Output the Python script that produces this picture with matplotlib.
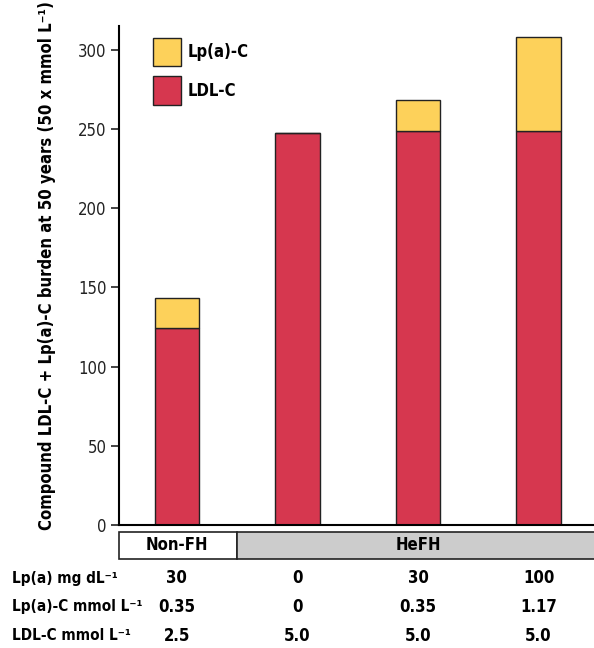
import matplotlib.pyplot as plt
import matplotlib.transforms as mtransforms
from matplotlib.patches import Rectangle, Patch

plt.rcParams['font.family'] = ['DejaVu Sans']
plt.rcParams['font.stretch'] = 'condensed'

# data
groups = ['Non-FH', 'HeFH']
ldl_c = [124.5, 247.5, 249, 249]
lpa_c = [18.5, 0, 19, 59]
row_labels = ['Lp(a) mg dL⁻¹', 'Lp(a)-C mmol L⁻¹', 'LDL-C mmol L⁻¹']
row_values = [['30', '0', '30', '100'],
              ['0.35', '0', '0.35', '1.17'],
              ['2.5', '5.0', '5.0', '5.0']]

RED = '#D6374F'
YELLOW = '#FDD15A'
EDGE = '#222222'

W, H = 594, 648
fig = plt.figure(figsize=(W / 100, H / 100), dpi=100)
ax_left, ax_right, ax_top, ax_bottom = 119, 600, 26, 525
ax = fig.add_axes([ax_left / W, 1 - ax_bottom / H,
                   (ax_right - ax_left) / W, (ax_bottom - ax_top) / H])
h_ax = ax_bottom - ax_top
w_ax = ax_right - ax_left


def ay(py):
    return (ax_bottom - py) / h_ax


x = list(range(len(ldl_c)))
ax.bar(x, ldl_c, width=0.37, color=RED, edgecolor=EDGE, linewidth=1, zorder=2)
ax.bar(x, lpa_c, width=0.37, bottom=ldl_c, color=YELLOW, edgecolor=EDGE,
       linewidth=1, zorder=2)

ax.set_xlim(-0.48, 3.51)
ax.set_ylim(0, 315)
ax.set_yticks([0, 50, 100, 150, 200, 250, 300])
ax.tick_params(axis='y', length=6, width=1.2, labelsize=12, colors='#222222',
               pad=3)
ax.set_xticks([])
for s in ['top', 'right']:
    ax.spines[s].set_visible(False)
ax.spines['left'].set_linewidth(1.5)
ax.spines['bottom'].set_linewidth(1.5)

ax.set_ylabel('Compound LDL-C + Lp(a)-C burden at 50 years (50 x mmol L⁻¹)',
              fontsize=12, fontweight='bold')
ax.yaxis.set_label_coords((56 - ax_left) / w_ax, ay(266))

handles = [Patch(facecolor=YELLOW, edgecolor=EDGE, label='Lp(a)-C'),
           Patch(facecolor=RED, edgecolor=EDGE, label='LDL-C')]
ax.legend(handles=handles, loc='upper left', bbox_to_anchor=(0.04, 1.006),
          frameon=False, handlelength=1.65, handleheight=2.25,
          handletextpad=0.4, labelspacing=0.6,
          prop={'weight': 'bold', 'size': 12, 'stretch': 'condensed'})

# group boxes under the axis
trans = mtransforms.blended_transform_factory(ax.transData, ax.transAxes)

box_top, box_bot = ay(532), ay(559)
ax.add_patch(Rectangle((-0.48, box_bot), 0.98, box_top - box_bot,
                       transform=trans, facecolor='white', edgecolor=EDGE,
                       linewidth=1.2, clip_on=False))
ax.add_patch(Rectangle((0.5, box_bot), 3.2, box_top - box_bot,
                       transform=trans, facecolor='#CCCCCC', edgecolor=EDGE,
                       linewidth=1.2, clip_on=False))
ax.text(0.0, (box_top + box_bot) / 2, groups[0], transform=trans,
        ha='center', va='center', fontsize=12, fontweight='bold')
ax.text(2.0, (box_top + box_bot) / 2, groups[1], transform=trans,
        ha='center', va='center', fontsize=12, fontweight='bold')

# table rows
row_y = [578, 607, 636]
for label, vals, py in zip(row_labels, row_values, row_y):
    fig.text(12 / W, 1 - py / H, label, ha='left', va='center',
             fontsize=11, fontweight='bold')
    for xi, v in zip(x, vals):
        ax.text(xi, ay(py), v, transform=trans, ha='center', va='center',
                fontsize=12, fontweight='bold')

plt.savefig('out.png', dpi=100)
